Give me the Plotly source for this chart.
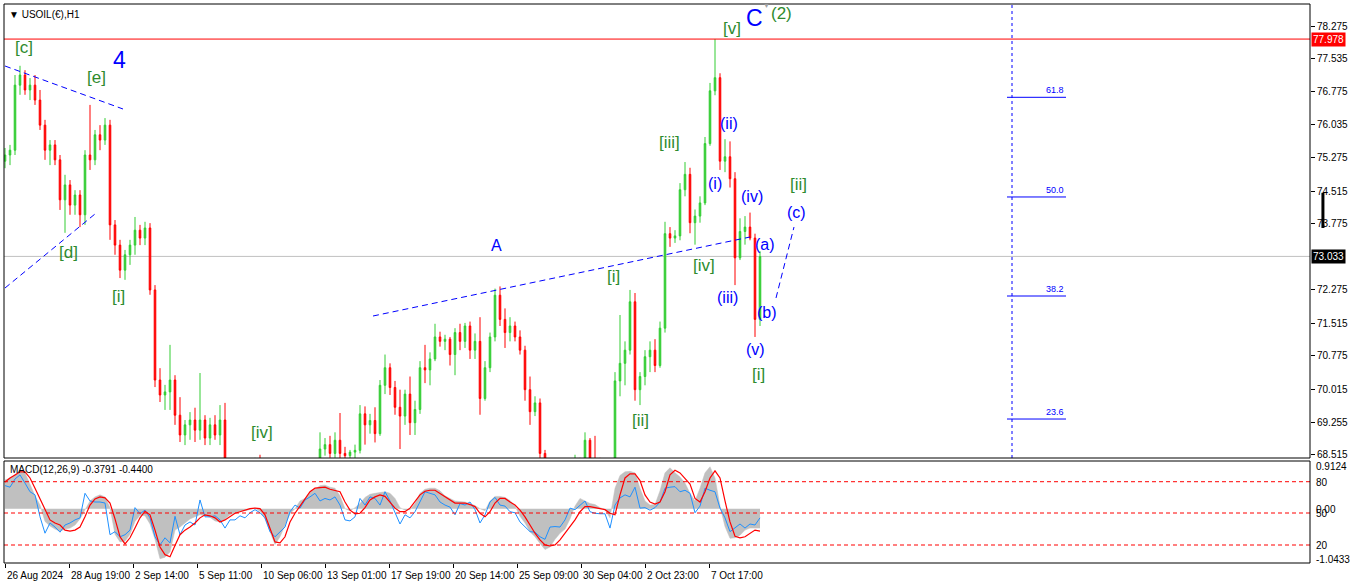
import plotly.graph_objects as go

# ---------------- data ----------------
# one candle per 5 hourly bars; position measured in hourly bars from 26 Aug 2024 00:00
bar_pos = list(range(0, 756, 5))

opens = [
    75.20, 75.34, 75.45, 76.93, 77.16, 76.82, 76.93, 76.59, 76.02, 75.45,
    75.57, 75.23, 74.32, 74.66, 74.20, 74.43, 73.98, 75.34, 75.23, 75.80,
    75.68, 76.02, 73.75, 73.29, 72.72, 73.07, 73.29, 73.63, 73.45, 73.68,
    72.27, 70.22, 69.88, 69.95, 70.22, 69.42, 68.97, 69.20, 69.31, 69.08,
    69.31, 68.90, 69.20, 68.97, 69.31, 68.28, 67.95, 67.70, 67.85, 68.05,
    68.20, 68.40, 68.00, 67.65, 67.30, 67.05, 67.25, 67.50, 67.75, 67.95,
    68.10, 68.00, 68.25, 68.30, 68.65, 68.75, 68.55, 68.85, 68.55, 68.50,
    68.58, 68.62, 69.45, 69.20, 69.30, 69.00, 70.10, 70.50, 70.05, 69.60,
    69.40, 69.90, 69.25, 69.55, 70.50, 70.45, 70.70, 71.20, 71.10, 71.15,
    70.80, 71.30, 71.10, 71.45, 70.90, 71.10, 69.80, 70.50, 71.20, 72.15,
    71.60, 71.30, 71.45, 71.20, 70.90, 70.00, 69.50, 69.70, 68.55, 68.20,
    67.80, 67.65, 67.85, 68.00, 68.20, 68.35, 68.25, 68.85, 68.40, 68.35,
    68.05, 67.90, 67.80, 70.20, 70.60, 70.90, 72.00, 70.00, 70.30, 70.75,
    70.90, 70.55, 71.40, 73.55, 73.45, 73.50, 74.55, 74.90, 73.80, 73.95,
    74.25, 75.60, 76.80, 77.10, 75.20, 75.30, 74.80, 73.00, 73.60, 73.70,
    73.45, 71.60,
]
highs = [
    75.50, 75.57, 77.16, 77.37, 77.27, 77.09, 77.16, 76.82, 76.14, 75.68,
    75.68, 75.34, 74.89, 74.77, 74.54, 74.54, 75.45, 76.48, 75.91, 76.02,
    76.18, 76.14, 73.86, 73.41, 73.18, 73.41, 73.93, 73.75, 73.82, 73.79,
    72.38, 70.49, 70.11, 71.02, 70.33, 69.83, 69.31, 69.49, 69.59, 70.38,
    69.42, 69.36, 69.42, 69.65, 69.70, 68.35, 68.10, 67.95, 68.15, 68.30,
    68.45, 68.52, 68.10, 67.80, 67.45, 67.35, 67.60, 67.85, 68.05, 68.20,
    68.30, 68.35, 68.42, 69.03, 68.90, 68.95, 69.03, 69.47, 68.70, 68.63,
    68.75, 69.65, 69.62, 69.45, 69.60, 70.22, 70.80, 70.60, 70.20, 70.00,
    70.00, 70.30, 69.75, 70.65, 71.02, 70.85, 71.50, 71.32, 71.25, 71.20,
    71.40, 71.50, 71.52, 71.55, 71.28, 71.65, 70.65, 71.30, 72.30, 72.35,
    71.85, 71.65, 71.55, 71.35, 71.00, 70.30, 69.85, 69.80, 68.63, 68.30,
    67.95, 67.90, 68.10, 68.30, 68.52, 68.45, 69.03, 68.90, 68.95, 68.45,
    68.20, 68.05, 70.40, 71.70, 71.10, 72.27, 72.20, 70.40, 70.90, 71.10,
    71.15, 71.55, 73.82, 73.70, 73.63, 74.70, 75.18, 75.05, 74.10, 74.40,
    75.75, 76.98, 77.98, 77.20, 75.70, 75.65, 74.95, 73.90, 73.95, 74.03,
    73.55, 73.15,
]
lows = [
    75.04, 75.11, 75.34, 76.71, 76.71, 76.59, 76.48, 75.91, 75.23, 75.11,
    75.11, 74.09, 73.57, 73.98, 73.98, 73.70, 73.75, 75.00, 75.11, 75.45,
    75.57, 73.41, 73.07, 72.54, 72.50, 72.84, 73.07, 73.29, 73.29, 72.16,
    70.06, 69.72, 69.54, 69.54, 69.20, 68.81, 68.74, 68.86, 68.81, 68.86,
    68.74, 68.74, 68.86, 68.74, 68.17, 67.85, 67.60, 67.45, 67.75, 67.90,
    68.10, 67.95, 67.55, 67.20, 66.90, 66.95, 67.15, 67.40, 67.60, 67.80,
    67.90, 67.95, 68.10, 68.25, 68.50, 68.45, 68.45, 68.40, 68.35, 68.42,
    68.38, 68.55, 68.75, 69.00, 68.80, 68.95, 69.90, 69.88, 69.43, 68.65,
    69.20, 68.97, 68.97, 69.45, 70.15, 70.10, 70.65, 70.98, 70.90, 70.55,
    70.33, 70.90, 70.95, 70.70, 70.70, 69.43, 69.75, 70.40, 71.10, 71.45,
    70.95, 71.10, 71.10, 70.80, 69.75, 69.20, 69.40, 68.40, 68.10, 67.70,
    67.50, 67.45, 67.70, 67.90, 68.10, 68.05, 68.15, 68.30, 68.20, 67.95,
    67.75, 67.60, 67.70, 69.85, 70.10, 70.80, 69.75, 69.65, 70.10, 70.40,
    70.40, 70.50, 71.30, 73.25, 73.34, 73.40, 74.40, 73.56, 73.30, 73.80,
    74.20, 75.55, 76.70, 75.00, 74.95, 74.60, 72.38, 72.95, 73.30, 73.40,
    71.20, 71.45,
]
closes = [
    75.34, 75.45, 76.93, 77.16, 76.82, 76.93, 76.59, 76.02, 75.45, 75.57,
    75.23, 74.32, 74.66, 74.20, 74.43, 73.98, 75.34, 75.23, 75.80, 75.68,
    76.02, 73.75, 73.29, 72.72, 73.07, 73.29, 73.63, 73.45, 73.68, 72.27,
    70.22, 69.88, 69.95, 70.22, 69.42, 68.97, 69.20, 69.31, 69.08, 69.31,
    68.90, 69.20, 68.97, 69.31, 68.28, 67.95, 67.70, 67.85, 68.05, 68.20,
    68.40, 68.00, 67.65, 67.30, 67.05, 67.25, 67.50, 67.75, 67.95, 68.10,
    68.00, 68.25, 68.30, 68.65, 68.75, 68.55, 68.85, 68.55, 68.50, 68.58,
    68.62, 69.45, 69.20, 69.30, 69.00, 70.10, 70.50, 70.05, 69.60, 69.40,
    69.90, 69.25, 69.55, 70.50, 70.45, 70.70, 71.20, 71.10, 71.15, 70.80,
    71.30, 71.10, 71.45, 70.90, 71.10, 69.80, 70.50, 71.20, 72.15, 71.60,
    71.30, 71.45, 71.20, 70.90, 70.00, 69.50, 69.70, 68.55, 68.20, 67.80,
    67.65, 67.85, 68.00, 68.20, 68.35, 68.25, 68.85, 68.40, 68.35, 68.05,
    67.90, 67.80, 70.20, 70.60, 70.90, 72.00, 70.00, 70.30, 70.75, 70.90,
    70.55, 71.40, 73.55, 73.45, 73.50, 74.55, 74.90, 73.80, 73.95, 74.25,
    75.60, 76.80, 77.10, 75.20, 75.30, 74.80, 73.00, 73.60, 73.70, 73.45,
    71.60, 73.03,
]

macd_hist = [
    0.56, 0.60, 0.66, 0.76, 0.70, 0.46, 0.25, 0.07, -0.25, -0.34,
    -0.40, -0.44, -0.40, -0.38, -0.32, -0.20, -0.02, 0.15, 0.23, 0.27,
    0.23, 0.02, -0.50, -0.65, -0.64, -0.50, -0.25, -0.13, -0.14, -0.30,
    -0.60, -0.98, -0.95, -0.85, -0.42, -0.36, -0.28, -0.20, -0.16, -0.12,
    -0.14, -0.17, -0.24, -0.26, -0.20, -0.12, -0.08, -0.05, -0.04, -0.02,
    0.01, -0.05, -0.20, -0.45, -0.70, -0.55, -0.32, -0.10, 0.00, 0.15,
    0.20, 0.32, 0.38, 0.45, 0.46, 0.42, 0.40, 0.25, 0.00, -0.04,
    0.02, 0.10, 0.22, 0.28, 0.30, 0.32, 0.33, 0.30, 0.20, 0.02,
    -0.03, -0.02, 0.10, 0.30, 0.38, 0.40, 0.40, 0.35, 0.25, 0.20,
    0.15, 0.14, 0.13, 0.10, 0.06, 0.00, -0.04, 0.15, 0.24, 0.24,
    0.22, 0.16, 0.05, -0.15, -0.28, -0.45, -0.55, -0.68, -0.80, -0.75,
    -0.60, -0.48, -0.40, -0.20, 0.05, 0.20, 0.15, 0.10, 0.08, 0.02,
    -0.02, -0.18, 0.40, 0.65, 0.72, 0.73, 0.70, 0.40, 0.15, 0.07,
    0.08, 0.35, 0.70, 0.80, 0.70, 0.62, 0.50, 0.30, 0.15, 0.40,
    0.70, 0.82, 0.60, 0.05, -0.35, -0.58, -0.57, -0.52, -0.42, -0.38,
    -0.38, -0.38,
]
macd_signal = [
    0.52, 0.60, 0.66, 0.72, 0.72, 0.60, 0.40, 0.20, -0.02, -0.22,
    -0.28, -0.32, -0.42, -0.44, -0.42, -0.36, -0.16, 0.07, 0.19, 0.23,
    0.21, 0.11, -0.20, -0.55, -0.69, -0.57, -0.38, -0.18, -0.05, -0.12,
    -0.42, -0.75, -0.90, -0.94, -0.72, -0.51, -0.42, -0.36, -0.28, -0.18,
    -0.12, -0.14, -0.18, -0.26, -0.22, -0.16, -0.09, -0.06, -0.03, 0.00,
    0.01, 0.00, -0.12, -0.38, -0.65, -0.67, -0.55, -0.26, -0.09, 0.05,
    0.20, 0.33, 0.40, 0.41, 0.42, 0.38, 0.35, 0.33, 0.13, -0.03,
    -0.10, -0.09, 0.02, 0.17, 0.23, 0.27, 0.24, 0.13, 0.01, -0.06,
    -0.06, 0.01, 0.13, 0.27, 0.34, 0.36, 0.36, 0.30, 0.23, 0.17,
    0.11, 0.11, 0.11, 0.08, 0.04, -0.09, -0.16, -0.06, 0.11, 0.20,
    0.20, 0.13, 0.07, -0.03, -0.16, -0.32, -0.48, -0.61, -0.71, -0.73,
    -0.71, -0.61, -0.48, -0.36, -0.22, -0.06, 0.04, 0.04, 0.02, 0.01,
    -0.02, -0.09, -0.12, 0.27, 0.60, 0.68, 0.68, 0.55, 0.27, 0.13,
    0.09, 0.13, 0.33, 0.66, 0.75, 0.70, 0.60, 0.48, 0.20, 0.13,
    0.33, 0.60, 0.74, 0.60, 0.15, -0.26, -0.54, -0.57, -0.55, -0.48,
    -0.42, -0.44,
]
macd_fast = [
    0.45, 0.42, 0.58, 0.66, 0.50, 0.33, 0.27, -0.16, -0.48, -0.28,
    -0.36, -0.46, -0.32, -0.28, -0.22, -0.18, 0.30, 0.15, 0.13, 0.13,
    0.11, -0.51, -0.45, -0.55, -0.51, -0.42, 0.02, -0.10, -0.03, -0.18,
    -0.55, -0.71, -0.57, -0.67, -0.15, -0.51, -0.32, -0.26, -0.32, 0.17,
    -0.16, -0.16, -0.14, -0.22, -0.38, -0.22, -0.22, -0.14, -0.18, -0.08,
    -0.02, -0.08, -0.18, -0.45, -0.55, -0.45, -0.36, -0.06, 0.07, 0.01,
    0.17, 0.23, 0.30, 0.15, 0.20, 0.17, 0.23, 0.07, -0.22, -0.24,
    -0.16, 0.20, 0.07, 0.23, 0.20, 0.07, 0.33, 0.15, -0.06, -0.30,
    -0.12, -0.18, -0.06, 0.13, 0.33, 0.30, 0.27, 0.13, 0.07, 0.03,
    -0.12, 0.10, 0.07, 0.13, -0.02, -0.28, -0.12, 0.13, 0.22, 0.07,
    0.05, -0.06, -0.08, -0.26, -0.36, -0.45, -0.46, -0.55, -0.60, -0.36,
    -0.35, -0.36, -0.22, 0.01, -0.02, 0.07, 0.15, -0.06, -0.09, -0.10,
    -0.10, -0.38, 0.07, 0.21, 0.27, 0.23, 0.42, 0.01, 0.02, -0.03,
    0.02, 0.13, 0.40, 0.42, 0.43, 0.33, 0.36, 0.30, -0.08, 0.05,
    0.40, 0.36, 0.33, 0.01, -0.18, -0.45, -0.38, -0.30, -0.38, -0.30,
    -0.32, -0.18,
]

time_tick_pos = [0, 64, 128, 192, 256, 320, 384, 448, 512, 576, 640, 704]
time_tick_text = ["26 Aug 2024", "28 Aug 19:00", "2 Sep 14:00", "5 Sep 11:00",
                  "10 Sep 06:00", "13 Sep 01:00", "17 Sep 19:00", "20 Sep 14:00",
                  "25 Sep 09:00", "30 Sep 04:00", "2 Oct 23:00", "7 Oct 17:00"]

price_ticks = [78.275, 77.535, 76.775, 76.035, 75.275, 74.515, 73.775,
               72.275, 71.515, 70.775, 70.015, 69.255, 68.515]

high_line = 77.978
last_price = 73.033

fib_levels = [61.8, 50.0, 38.2, 23.6]
fib_prices = [76.653, 74.385, 72.132, 69.333]
fib_x = [1002, 1061]
fib_vline_x = 1007

macd_levels = [0.527, -0.085, -0.711]
macd_labels = [("0.9124", 0.815), ("80", 0.521), ("0.00", -0.026),
               ("50", -0.085), ("20", -0.711), ("-1.0433", -0.985)]

# trend lines (x in hourly bars, y in price)
trend_lines = [
    ((0, 77.365), (118, 76.387)),
    ((0, 72.314), (90, 73.998)),
    ((368, 71.677), (745, 73.474)),
    ((771, 72.087), (789, 73.702)),
]

GREEN_TXT = "#2e8b2e"
BLUE_TXT = "#0000ff"
wave_labels = [
    ("[c]", 19, 77.775, GREEN_TXT, 17),
    ("[e]", 91, 77.115, GREEN_TXT, 17),
    ("4", 114, 77.502, BLUE_TXT, 23),
    ("[d]", 63, 73.133, GREEN_TXT, 17),
    ("[i]", 113, 72.132, GREEN_TXT, 17),
    ("[iv]", 257, 69.015, GREEN_TXT, 17),
    ("A", 491, 73.27, BLUE_TXT, 16),
    ("[i]", 608, 72.587, GREEN_TXT, 17),
    ("[ii]", 635, 69.288, GREEN_TXT, 17),
    ("[iii]", 664, 75.636, GREEN_TXT, 17),
    ("[iv]", 699, 72.815, GREEN_TXT, 17),
    ("[v]", 727, 78.23, GREEN_TXT, 17),
    ("C", 749, 78.457, BLUE_TXT, 23),
    ("(2)", 776, 78.571, GREEN_TXT, 17),
    ("(ii)", 724, 76.046, BLUE_TXT, 16),
    ("(i)", 710, 74.703, BLUE_TXT, 16),
    ("(iv)", 747, 74.385, BLUE_TXT, 16),
    ("[ii]", 793, 74.68, GREEN_TXT, 17),
    ("(c)", 791, 74.021, BLUE_TXT, 16),
    ("(a)", 760, 73.293, BLUE_TXT, 16),
    ("(iii)", 722, 72.087, BLUE_TXT, 16),
    ("(b)", 762, 71.768, BLUE_TXT, 16),
    ("(v)", 750, 70.926, BLUE_TXT, 16),
    ("[i]", 753, 70.357, GREEN_TXT, 17),
]

# ---------------- geometry ----------------
W, H = 1366, 588
ML, MR, MT, MB = 4, 56, 4, 25
PH = H - MT - MB  # 559


def py(pix):  # screen y pixel -> paper y
    return (H - MB - pix) / PH


MAIN_DOM = [py(458), 1.0]
MACD_DOM = [0.0, py(461)]
FONT = "Liberation Sans"

fig = go.Figure()

fig.add_trace(go.Candlestick(
    x=bar_pos, open=opens, high=highs, low=lows, close=closes,
    increasing=dict(line=dict(color="#32CD32", width=1), fillcolor="#32CD32"),
    decreasing=dict(line=dict(color="#FF0000", width=1), fillcolor="#FF0000"),
    whiskerwidth=0, hoverinfo="skip", xaxis="x", yaxis="y", showlegend=False,
))

fig.add_trace(go.Scatter(
    x=bar_pos, y=macd_hist, mode="lines", fill="tozeroy",
    fillcolor="#C0C0C0", line=dict(color="#C0C0C0", width=0.5),
    xaxis="x", yaxis="y2", hoverinfo="skip", showlegend=False,
))
fig.add_trace(go.Scatter(
    x=bar_pos, y=macd_fast, mode="lines", line=dict(color="#1E90FF", width=1),
    xaxis="x", yaxis="y2", hoverinfo="skip", showlegend=False,
))
fig.add_trace(go.Scatter(
    x=bar_pos, y=macd_signal, mode="lines", line=dict(color="#FF0000", width=1.2),
    xaxis="x", yaxis="y2", hoverinfo="skip", showlegend=False,
))

shapes = []
# horizontal price lines
shapes.append(dict(type="line", xref="paper", x0=0, x1=1, yref="y", y0=high_line, y1=high_line,
                   line=dict(color="#FF0000", width=1)))
shapes.append(dict(type="line", xref="paper", x0=0, x1=1, yref="y", y0=last_price, y1=last_price,
                   line=dict(color="#C0C0C0", width=1), layer="below"))
# trend lines
for (xa, ya), (xb, yb) in trend_lines:
    shapes.append(dict(type="line", xref="x", yref="y", x0=xa, y0=ya, x1=xb, y1=yb,
                       line=dict(color="#0000FF", width=1, dash="6px,4px")))
# fibonacci
shapes.append(dict(type="line", xref="x", yref="paper", x0=fib_vline_x, x1=fib_vline_x,
                   y0=MAIN_DOM[0], y1=1, line=dict(color="#0000FF", width=1, dash="3px,3px")))
for fp in fib_prices:
    shapes.append(dict(type="line", xref="x", yref="y", x0=fib_x[0], x1=fib_x[1], y0=fp, y1=fp,
                       line=dict(color="#0000FF", width=1)))
# macd levels
for lv in macd_levels:
    shapes.append(dict(type="line", xref="paper", x0=0, x1=1, yref="y2", y0=lv, y1=lv,
                       line=dict(color="#FF0000", width=1, dash="4px,3px")))
# panel borders
shapes.append(dict(type="rect", xref="paper", yref="paper", x0=0, x1=1, y0=MAIN_DOM[0], y1=1,
                   line=dict(color="black", width=1)))
shapes.append(dict(type="rect", xref="paper", yref="paper", x0=0, x1=1, y0=0, y1=MACD_DOM[1],
                   line=dict(color="black", width=1)))
# black range marker on price scale
shapes.append(dict(type="line", xref="paper", yref="y", x0=1.0099, x1=1.0099, y0=73.68, y1=74.48,
                   line=dict(color="black", width=3)))

ann = []
for txt, xv, yv, col, fs in wave_labels:
    ann.append(dict(text=txt, x=xv, y=yv, xref="x", yref="y", showarrow=False,
                    font=dict(family=FONT, size=fs, color=col)))
for lvl, fp in zip(fib_levels, fib_prices):
    ann.append(dict(text=f"{lvl:.1f}", x=fib_x[1], y=fp, xref="x", yref="y", showarrow=False,
                    xanchor="right", yanchor="bottom", font=dict(family=FONT, size=9, color="#0000FF")))
for txt, pos in zip(time_tick_text, time_tick_pos):
    ann.append(dict(text=txt, x=pos, y=py(575), xref="x", yref="paper", showarrow=False,
                    xanchor="left", yanchor="middle", xshift=0,
                    font=dict(family=FONT, size=10, color="black")))
for txt, v in macd_labels:
    ann.append(dict(text=txt, x=1, y=v, xref="paper", yref="y2", showarrow=False,
                    xanchor="left", yanchor="middle", xshift=4,
                    font=dict(family=FONT, size=10, color="black")))
ann.append(dict(text=f"{high_line:.3f}", x=1, y=high_line, xref="paper", yref="y", showarrow=False,
                xanchor="left", yanchor="middle", xshift=1, bgcolor="#FF0000", borderpad=1,
                font=dict(family=FONT, size=10, color="white")))
ann.append(dict(text=f"{last_price:.3f}", x=1, y=last_price, xref="paper", yref="y", showarrow=False,
                xanchor="left", yanchor="middle", xshift=1, bgcolor="black", borderpad=1,
                font=dict(family=FONT, size=10, color="white")))
ann.append(dict(text="▼ USOIL(€),H1", x=0, y=1, xref="paper", yref="paper", showarrow=False,
                xanchor="left", yanchor="top", xshift=3, yshift=-3,
                font=dict(family=FONT, size=10, color="black")))
ann.append(dict(text="MACD(12,26,9) -0.3791 -0.4400", x=0, y=py(469), xref="paper", yref="paper",
                showarrow=False, xanchor="left", yanchor="middle", xshift=4,
                font=dict(family=FONT, size=10, color="black")))
ann.append(dict(text="▼", x=761, y=1, xref="x", yref="paper", showarrow=False,
                yanchor="top", yshift=4, font=dict(family=FONT, size=7, color="#A0A0A0")))

fig.update_layout(
    width=W, height=H, autosize=False,
    margin=dict(l=ML, r=MR, t=MT, b=MB, pad=0),
    paper_bgcolor="white", plot_bgcolor="white",
    showlegend=False, boxgap=0.55,
    xaxis=dict(domain=[0, 1], range=[-1, 1305], anchor="y2", showgrid=False, zeroline=False,
               showline=False, ticks="outside", ticklen=4, tickcolor="black",
               tickvals=time_tick_pos, showticklabels=False,
               rangeslider=dict(visible=False), fixedrange=True),
    yaxis=dict(domain=MAIN_DOM, range=[68.446, 78.776], side="right", anchor="x",
               showgrid=False, zeroline=False, showline=False, ticks="outside", ticklen=4,
               tickcolor="black", tickvals=price_ticks,
               ticktext=[f"{t:.3f}" for t in price_ticks],
               tickfont=dict(family=FONT, size=10, color="black"), fixedrange=True),
    yaxis2=dict(domain=MACD_DOM, range=[-1.063, 0.932], side="right", anchor="x",
                showgrid=False, zeroline=False, showline=False, showticklabels=False,
                fixedrange=True),
    shapes=shapes, annotations=ann,
)

fig.write_html("out.html", config={"displayModeBar": False},
               post_script="document.body.style.margin='0';document.body.style.overflow='hidden';")
